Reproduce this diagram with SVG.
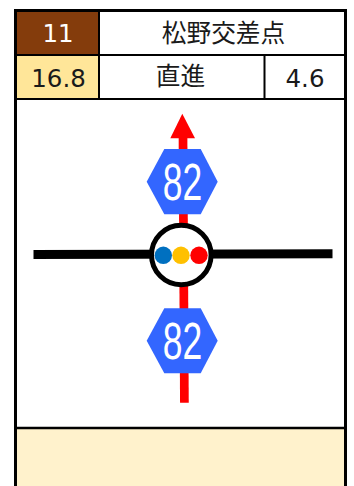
<svg xmlns="http://www.w3.org/2000/svg" width="354" height="486" viewBox="0 0 354 486">
<style>
.t{font-family:"DejaVu Sans",sans-serif;font-size:24.500px;text-anchor:middle;fill:#1a1a1a}
.j{font-family:"Noto Sans CJK JP",sans-serif;font-size:24.700px;text-anchor:middle;fill:#1a1a1a}
.b{stroke:#000;fill:none}
.h{fill:#3366ff}
.n{font-family:"Liberation Sans",sans-serif;font-size:52px;fill:#fff;text-anchor:middle}
</style>
<rect width="354" height="486" fill="#fff"/>
<g id="table">
<rect x="16" y="11" width="83" height="44" fill="#843c0c"/>
<rect x="16" y="55" width="83" height="44" fill="#ffe699"/>
<rect x="16" y="428" width="330" height="58" fill="#fff2cc"/>
<path class="b" stroke-width="3" d="M15.500 486V10.500H345.500V486"/>
<path class="b" stroke-width="2" d="M16 55H345M16 99H345M99 11V99M264.500 55V99"/>
<path class="b" stroke-width="2.500" d="M16 428H345"/>
<text class="t" x="58" y="42" style="fill:#fff">11</text>
<text class="j" x="223.500" y="42">松野交差点</text>
<text class="t" x="58.500" y="86.500">16.8</text>
<text class="j" x="180.500" y="85">直進</text>
<text class="t" x="305" y="86.500">4.6</text>
</g>
<g id="connectors">
<path d="M33.500 254.400L332.500 253.700" stroke="#000" stroke-width="9" fill="none"/>
<path d="M183 135L184.400 402.700" stroke="#f00" stroke-width="8.700" fill="none"/>
<path d="M182.300 113.700L195 138.300H170.300Z" fill="#f00"/>
</g>
<g id="shield-top">
<path class="h" d="M164.300 149H200.700L217.700 181.700L200.700 214.300H164.300L146.700 181.700Z"/>
<text class="n" x="182.500" y="200" textLength="39.500" lengthAdjust="spacingAndGlyphs">82</text>
</g>
<g id="shield-bottom">
<path class="h" d="M164.300 308.300H200.700L217.700 340.700L200.700 373.300H164.300L146.700 340.700Z"/>
<text class="n" x="182.500" y="359" textLength="39.500" lengthAdjust="spacingAndGlyphs">82</text>
</g>
<g id="junction">
<circle cx="181.300" cy="255" r="29.800" fill="#fff" stroke="#000" stroke-width="5"/>
<circle cx="163.300" cy="255.300" r="8.700" fill="#0070c0"/>
<circle cx="181" cy="255.300" r="8.700" fill="#ffc000"/>
<circle cx="199" cy="255.300" r="8.700" fill="#f00"/>
</g>
</svg>
